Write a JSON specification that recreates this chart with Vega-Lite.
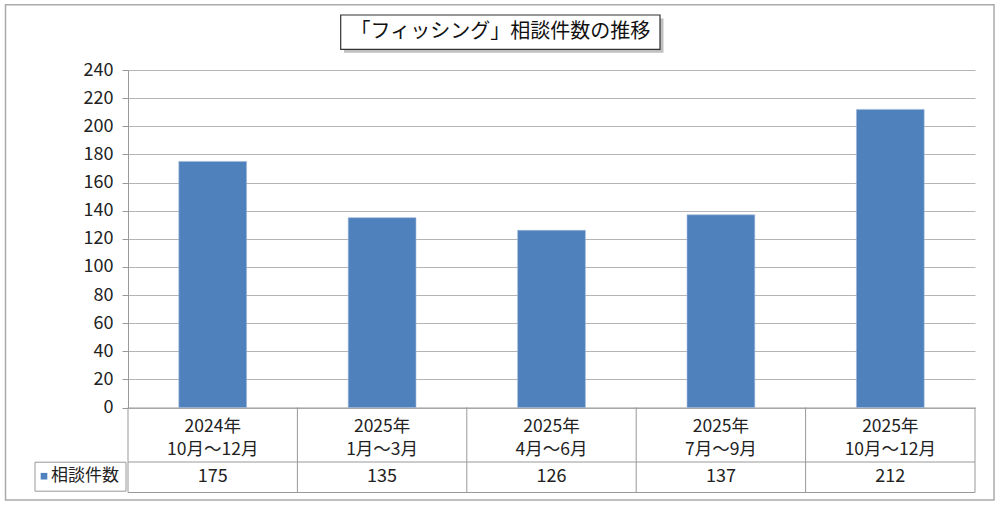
{
  "$schema": "https://vega.github.io/schema/vega-lite/v6.json",
  "width": 847,
  "height": 337.5,
  "autosize": {"type": "none"},
  "padding": {"left": 128, "top": 70, "right": 25, "bottom": 97.5},
  "background": "#ffffff",
  "config": {
    "view": {"stroke": null},
    "font": "Noto Sans CJK JP",
    "text": {"font": "Noto Sans CJK JP"},
    "axisX": {
      "labelAngle": 0, "labelFont": "Noto Sans CJK JP", "labelFontSize": 17.5, "labelLineHeight": 23,
      "labelColor": "#222222", "labelBaseline": "top", "labelPadding": -75, "labelLimit": 0,
      "labelOverlap": false, "tickSize": 85, "tickOpacity": 0,
      "domainColor": "#999999", "domainWidth": 1, "grid": false
    },
    "axisY": {
      "labelOverlap": false, "grid": true, "gridColor": "#b5b5b5", "gridWidth": 1,
      "domainColor": "#999999", "domainWidth": 1,
      "tickColor": "#999999", "tickSize": 6, "labelPadding": 9,
      "labelFont": "Noto Sans CJK JP", "labelFontSize": 18, "labelColor": "#222222"
    }
  },
  "data": {"values": [
    {"period": "2024年|10月～12月", "count": 175},
    {"period": "2025年|1月～3月", "count": 135},
    {"period": "2025年|4月～6月", "count": 126},
    {"period": "2025年|7月～9月", "count": 137},
    {"period": "2025年|10月～12月", "count": 212}
  ]},
  "layer": [
    {
      "data": {"values": [{}]},
      "mark": {"type": "rect", "filled": false, "stroke": "#aaaaaa", "strokeWidth": 1.5},
      "encoding": {"x": {"value": -122.5}, "x2": {"value": 866}, "y": {"value": -65.3}, "y2": {"value": 430}}
    },
    {
      "mark": {"type": "bar", "stroke": "#9fb8d9", "strokeWidth": 0.6},
      "encoding": {
        "x": {
          "field": "period", "type": "nominal", "sort": null,
          "scale": {"type": "band", "paddingInner": 0.6, "paddingOuter": 0.3},
          "axis": {"title": null, "labelExpr": "split(datum.label, '|')"}
        },
        "y": {
          "field": "count", "type": "quantitative",
          "scale": {"domain": [0, 240], "nice": false, "zero": true},
          "axis": {"title": null, "values": [0, 20, 40, 60, 80, 100, 120, 140, 160, 180, 200, 220, 240]}
        },
        "color": {
          "datum": "相談件数", "type": "nominal",
          "scale": {"range": ["#4f81bd"]},
          "legend": {
            "orient": "none", "legendX": -93.5, "legendY": 391.7,
            "title": null, "symbolType": "square", "symbolSize": 44, "symbolStrokeWidth": 0,
            "symbolOffset": -5,
            "labelFont": "Noto Sans CJK JP", "labelFontSize": 17, "labelColor": "#222222", "labelOffset": -1.5,
            "padding": 6, "strokeColor": "#999999", "fillColor": "#ffffff"
          }
        }
      }
    },
    {
      "mark": {"type": "rule", "color": "#999999", "strokeWidth": 1},
      "encoding": {
        "x": {"field": "period", "type": "nominal", "sort": null, "bandPosition": -0.75,
              "axis": {"title": null, "labelExpr": "split(datum.label, '|')"}},
        "y": {"datum": 0, "axis": {"title": null, "values": [0, 20, 40, 60, 80, 100, 120, 140, 160, 180, 200, 220, 240]}},
        "y2": {"datum": -60.44}
      }
    },
    {
      "transform": [{"filter": "datum.period === '2025年|10月～12月'"}],
      "mark": {"type": "rule", "color": "#999999", "strokeWidth": 1},
      "encoding": {
        "x": {"field": "period", "type": "nominal", "sort": null, "bandPosition": 1.75,
              "axis": {"title": null, "labelExpr": "split(datum.label, '|')"}},
        "y": {"datum": 0, "axis": {"title": null, "values": [0, 20, 40, 60, 80, 100, 120, 140, 160, 180, 200, 220, 240]}},
        "y2": {"datum": -60.44}
      }
    },
    {
      "mark": {"type": "text", "fontSize": 18, "color": "#222222", "baseline": "middle", "align": "center"},
      "encoding": {
        "x": {"field": "period", "type": "nominal", "sort": null,
              "axis": {"title": null, "labelExpr": "split(datum.label, '|')"}},
        "y": {"datum": -49.4, "axis": {"title": null, "values": [0, 20, 40, 60, 80, 100, 120, 140, 160, 180, 200, 220, 240]}},
        "text": {"field": "count", "type": "quantitative"}
      }
    },
    {
      "data": {"values": [{}]},
      "mark": {"type": "rule", "color": "#999999", "strokeWidth": 1},
      "encoding": {"y": {"datum": -38.76, "axis": {"title": null, "values": [0, 20, 40, 60, 80, 100, 120, 140, 160, 180, 200, 220, 240]}}}
    },
    {
      "data": {"values": [{}]},
      "mark": {"type": "rule", "color": "#999999", "strokeWidth": 1},
      "encoding": {"y": {"datum": -60.44, "axis": {"title": null, "values": [0, 20, 40, 60, 80, 100, 120, 140, 160, 180, 200, 220, 240]}}}
    },
    {
      "data": {"values": [{}]},
      "mark": {"type": "rect", "fill": "#b0b0b0", "opacity": 0.8},
      "encoding": {"x": {"value": 216}, "x2": {"value": 535.5}, "y": {"value": -51.5}, "y2": {"value": -17.2}}
    },
    {
      "data": {"values": [{}]},
      "mark": {"type": "rect", "fill": "#ffffff", "stroke": "#333333", "strokeWidth": 1.2},
      "encoding": {"x": {"value": 212.7}, "x2": {"value": 532}, "y": {"value": -55}, "y2": {"value": -20.7}}
    },
    {
      "data": {"values": [{"title": "「フィッシング」相談件数の推移"}]},
      "mark": {"type": "text", "fontSize": 20, "color": "#111111", "align": "center", "baseline": "middle"},
      "encoding": {"x": {"value": 372.4}, "y": {"value": -37.8}, "text": {"field": "title"}}
    }
  ]
}
